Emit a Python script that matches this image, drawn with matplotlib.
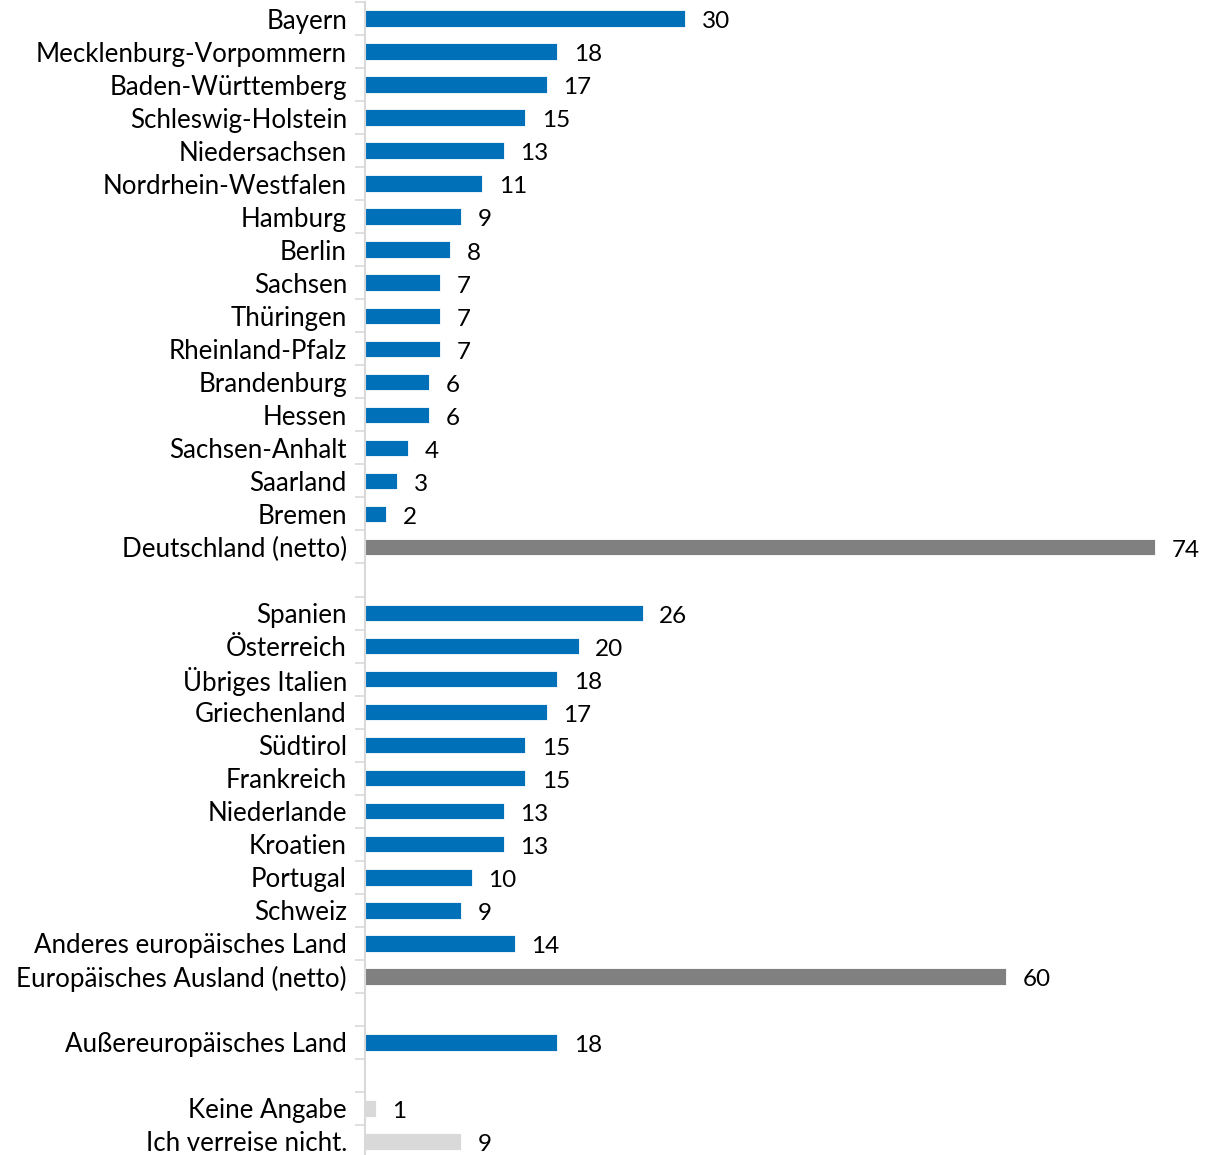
import numpy as np
import matplotlib.pyplot as plt

plt.rcParams['font.family'] = ['Lato', 'DejaVu Sans']

# rows from top to bottom, "" = empty spacer row
labels = ["Bayern", "Mecklenburg-Vorpommern", "Baden-Württemberg", "Schleswig-Holstein",
          "Niedersachsen", "Nordrhein-Westfalen", "Hamburg", "Berlin", "Sachsen",
          "Thüringen", "Rheinland-Pfalz", "Brandenburg", "Hessen", "Sachsen-Anhalt",
          "Saarland", "Bremen", "Deutschland (netto)", "",
          "Spanien", "Österreich", "Übriges Italien", "Griechenland", "Südtirol",
          "Frankreich", "Niederlande", "Kroatien", "Portugal", "Schweiz",
          "Anderes europäisches Land", "Europäisches Ausland (netto)", "",
          "Außereuropäisches Land", "",
          "Keine Angabe", "Ich verreise nicht."]
values = [30, 18, 17, 15, 13, 11, 9, 8, 7, 7, 7, 6, 6, 4, 3, 2, 74, None,
          26, 20, 18, 17, 15, 15, 13, 13, 10, 9, 14, 60, None,
          18, None,
          1, 9]
kinds = ["d"] * 16 + ["n", None] + ["d"] * 11 + ["n", None, "d", None, "o", "o"]

colors = {"d": "#0070B8", "n": "#808080", "o": "#D9D9D9"}

fig = plt.figure(figsize=(12.08, 11.55), dpi=100)
ax = fig.add_axes([365 / 1208, -3 / 1155, 843 / 1208, 1156 / 1155])

y = np.arange(len(labels))
for i, (v, k) in enumerate(zip(values, kinds)):
    if v is None:
        continue
    ax.barh(i, v, height=0.5, color=colors[k], edgecolor='white', linewidth=0.6)
    ax.text(v + 1.55, i + 0.1, str(v), va='center', ha='left', fontsize=17.5, color='black')

ax.set_xlim(0, 843 / 10.68)
ax.set_ylim(len(labels) - 0.5, -0.5)
ax.set_yticks(y)
ax.set_yticklabels(labels, fontsize=18.6)
ax.tick_params(axis='y', which='major', length=0, pad=13)
ax.set_yticks(np.arange(-0.5, len(labels), 1), minor=True)
ax.tick_params(axis='y', which='minor', length=7, color='#D9D9D9', width=1.2)
ax.set_xticks([])

for s in ['top', 'right', 'bottom']:
    ax.spines[s].set_visible(False)
ax.spines['left'].set_color('#D9D9D9')
ax.spines['left'].set_linewidth(1.5)

fig.savefig('out.png', dpi=100)
